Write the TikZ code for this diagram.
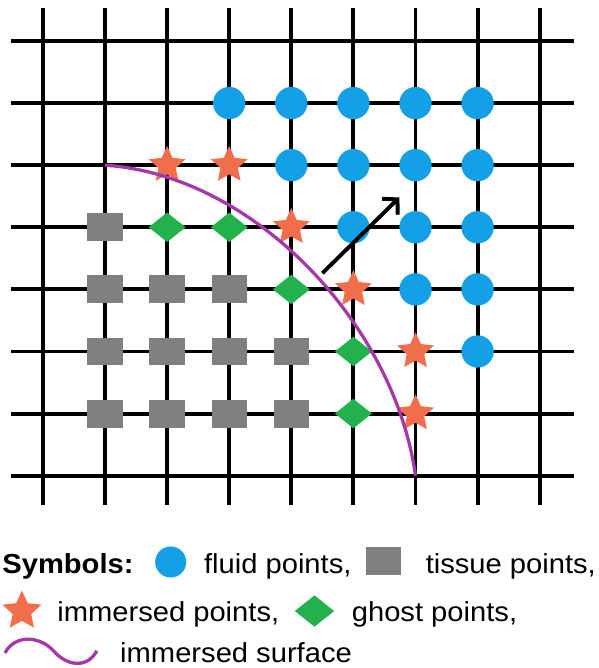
\documentclass[tikz,border=0pt]{standalone}
\usepackage{fontspec}
\setmainfont{Liberation Sans}
\newfontfamily\legendfont{Liberation Sans}[FakeStretch=1.06]
\usetikzlibrary{arrows.meta,positioning,shapes.geometric}
\definecolor{fluidblue}{RGB}{20,160,230}
\definecolor{tissuegray}{RGB}{128,128,128}
\definecolor{ghostgreen}{RGB}{34,177,76}
\definecolor{starorange}{RGB}{240,110,75}
\definecolor{surfpurple}{RGB}{165,55,170}
\tikzset{
  gridline/.style={
    line width=1.8pt,
    draw=black
  },
  fluid/.style={
    circle,
    fill=fluidblue,
    inner sep=0pt,
    minimum size=5.2mm
  },
  tissue/.style={
    rectangle,
    fill=tissuegray,
    inner sep=0pt,
    minimum width=5.7mm,
    minimum height=4.5mm
  },
  ghost/.style={
    diamond,
    fill=ghostgreen,
    inner sep=0pt,
    minimum width=6mm,
    minimum height=4.8mm
  },
  immersed/.style={
    star,
    star points=5,
    star point ratio=2.1,
    fill=starorange,
    inner sep=0pt,
    minimum size=6.2mm
  },
  surface/.style={
    line width=1.5pt,
    draw=surfpurple
  },
  normal/.style={
    -{Straight Barb[length=1.7mm,width=3.6mm]},
    line width=1.8pt,
    draw=black
  },
  legendtext/.style={
    anchor=base west,
    inner sep=0pt,
    font=\legendfont\fontsize{12.6}{15}\selectfont
  }
}

\begin{document}
\begin{tikzpicture}
  \useasboundingbox (-0.691,0.660) rectangle (8.939,-10.097);

  % mesh
  \foreach \i in {0,...,8}
    \draw[gridline] (\i,0.53) -- (\i,-7.47);
  \foreach \j in {0,...,7}
    \draw[gridline] (-0.51,-\j) -- (8.55,-\j);

  % fluid points
  \node[fluid] (f31) at (3,-1) {};
  \node[fluid] (f41) at (4,-1) {};
  \node[fluid] (f51) at (5,-1) {};
  \node[fluid] (f61) at (6,-1) {};
  \node[fluid] (f71) at (7,-1) {};
  \node[fluid] (f42) at (4,-2) {};
  \node[fluid] (f52) at (5,-2) {};
  \node[fluid] (f62) at (6,-2) {};
  \node[fluid] (f72) at (7,-2) {};
  \node[fluid] (f53) at (5,-3) {};
  \node[fluid] (f63) at (6,-3) {};
  \node[fluid] (f73) at (7,-3) {};
  \node[fluid] (f64) at (6,-4) {};
  \node[fluid] (f74) at (7,-4) {};
  \node[fluid] (f75) at (7,-5) {};

  % tissue points
  \node[tissue] (t13) at (1,-3) {};
  \node[tissue] (t14) at (1,-4) {};
  \node[tissue] (t24) at (2,-4) {};
  \node[tissue] (t34) at (3,-4) {};
  \node[tissue] (t15) at (1,-5) {};
  \node[tissue] (t25) at (2,-5) {};
  \node[tissue] (t35) at (3,-5) {};
  \node[tissue] (t45) at (4,-5) {};
  \node[tissue] (t16) at (1,-6) {};
  \node[tissue] (t26) at (2,-6) {};
  \node[tissue] (t36) at (3,-6) {};
  \node[tissue] (t46) at (4,-6) {};

  % ghost points
  \node[ghost] (g23) at (2,-3) {};
  \node[ghost] (g33) at (3,-3) {};
  \node[ghost] (g44) at (4,-4) {};
  \node[ghost] (g55) at (5,-5) {};
  \node[ghost] (g56) at (5,-6) {};

  % immersed points
  \node[immersed] (s22) at (2,-2) {};
  \node[immersed] (s32) at (3,-2) {};
  \node[immersed] (s43) at (4,-3) {};
  \node[immersed] (s54) at (5,-4) {};
  \node[immersed] (s65) at (6,-5) {};
  \node[immersed] (s66) at (6,-6) {};

  % immersed surface and normal
  \coordinate (surfstart) at (1,-2);
  \coordinate (surfend) at (6,-7);
  \draw[surface] (surfstart) .. controls (3.41,-2.16) and (5.66,-4.57) .. (surfend);
  \coordinate (normbase) at (4.5,-3.74);
  \coordinate (normtip) at (5.74,-2.52);
  \draw[normal] (normbase) -- (normtip);

  % legend
  \node[legendtext] (symbols) at (-0.66,-8.583) {\textbf{Symbols:}};
  \node[fluid, minimum size=5mm] (lfluid) at (2.058,-8.39) {};
  \node[legendtext] (lfluidtext) at (2.588,-8.583) {fluid points,};
  \node[tissue, minimum width=5.6mm, minimum height=4.5mm] (ltissue) at (5.49,-8.37) {};
  \node[legendtext] (ltissuetext) at (6.158,-8.583) {tissue points,};
  \node[immersed, minimum size=6.6mm] (limmersed) at (-0.338,-9.18) {};
  \node[legendtext] (limmersedtext) at (0.225,-9.356) {immersed points,};
  \node[ghost, minimum width=6.4mm, minimum height=5.1mm] (lghost) at (4.373,-9.18) {};
  \node[legendtext] (lghosttext) at (4.968,-9.356) {ghost points,};
  \coordinate (wavestart) at (-0.611,-9.855);
  \coordinate (waveend) at (0.868,-9.82);
  \draw[surface] (wavestart) .. controls (-0.45,-9.55) and (-0.05,-9.58) .. (0.17,-9.82)
    .. controls (0.4,-10.08) and (0.72,-10.1) .. (waveend);
  \node[legendtext] (lsurfacetext) at (1.238,-10.016) {immersed surface};
\end{tikzpicture}
\end{document}
